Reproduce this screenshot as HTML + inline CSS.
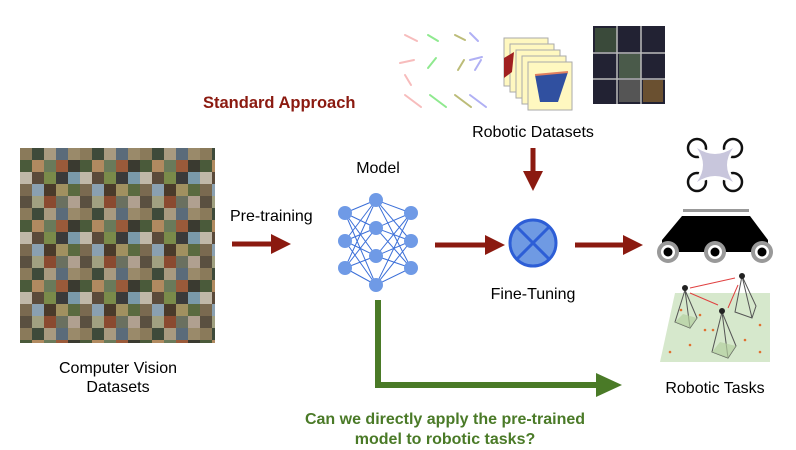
<!DOCTYPE html>
<html><head><meta charset="utf-8"><style>
body{margin:0;background:#fff;}
svg{display:block;font-family:"Liberation Sans",Arial,sans-serif;}
</style></head><body>
<svg width="796" height="450" viewBox="0 0 796 450" xmlns="http://www.w3.org/2000/svg">
<defs>
<pattern id="mos" x="20" y="148" width="60" height="60" patternUnits="userSpaceOnUse">
<rect width="60" height="60" fill="#6b5e4a"/>
<rect x="0" y="0" width="12" height="12" fill="#8a7a5a"/><rect x="12" y="0" width="12" height="12" fill="#3e4a3a"/><rect x="24" y="0" width="12" height="12" fill="#a89a80"/><rect x="36" y="0" width="12" height="12" fill="#5a6b7a"/><rect x="48" y="0" width="12" height="12" fill="#9a8a6a"/>
<rect x="0" y="12" width="12" height="12" fill="#4a5a3a"/><rect x="12" y="12" width="12" height="12" fill="#b08a60"/><rect x="24" y="12" width="12" height="12" fill="#6a7a5a"/><rect x="36" y="12" width="12" height="12" fill="#9a5a3a"/><rect x="48" y="12" width="12" height="12" fill="#3a3a30"/>
<rect x="0" y="24" width="12" height="12" fill="#c0b8a8"/><rect x="12" y="24" width="12" height="12" fill="#5a4a3a"/><rect x="24" y="24" width="12" height="12" fill="#7a8a4a"/><rect x="36" y="24" width="12" height="12" fill="#3a3a3a"/><rect x="48" y="24" width="12" height="12" fill="#7a9aaa"/>
<rect x="0" y="36" width="12" height="12" fill="#7a6a50"/><rect x="12" y="36" width="12" height="12" fill="#8aa0b0"/><rect x="24" y="36" width="12" height="12" fill="#4a3a2a"/><rect x="36" y="36" width="12" height="12" fill="#a09060"/><rect x="48" y="36" width="12" height="12" fill="#5a6a40"/>
<rect x="0" y="48" width="12" height="12" fill="#5a5040"/><rect x="12" y="48" width="12" height="12" fill="#a0a080"/><rect x="24" y="48" width="12" height="12" fill="#8a4a30"/><rect x="36" y="48" width="12" height="12" fill="#6a7060"/><rect x="48" y="48" width="12" height="12" fill="#b0a090"/>
</pattern>
<marker id="ar" markerWidth="4" markerHeight="4" refX="1" refY="2" orient="auto" markerUnits="strokeWidth"><path d="M0,0 L4,2 L0,4z" fill="#8b1a10"/></marker>
</defs>
<rect x="20" y="148" width="195" height="195" fill="url(#mos)"/>
<text x="118" y="373" font-size="16" text-anchor="middle">Computer Vision</text>
<text x="118" y="392" font-size="16" text-anchor="middle">Datasets</text>

<text x="203" y="108" font-size="16.5" font-weight="bold" fill="#8b1a10">Standard Approach</text>
<text x="533" y="137" font-size="16" text-anchor="middle">Robotic Datasets</text>

<g opacity="0.7">
<g stroke-width="2" stroke-linecap="round">
<path d="M405,35l12,6M400,63l14,-3M405,95l16,12M405,75l6,10" stroke="#f4a0a0"/>
<path d="M428,35l10,6M428,68l8,-10M430,95l16,12" stroke="#60e060"/>
<path d="M455,35l10,5M458,70l6,-10M455,95l16,12" stroke="#a0a040"/>
<path d="M470,33l8,8M470,60l12,-3M475,70l6,-10M470,95l16,12" stroke="#9090f0"/>
</g></g>
<g stroke="#aaa" stroke-width="1">
<rect x="504" y="38" width="44" height="48" fill="#fff8c0"/>
<rect x="510" y="44" width="44" height="48" fill="#fff8c0"/>
<rect x="516" y="50" width="44" height="48" fill="#fff8c0"/>
<rect x="522" y="56" width="44" height="48" fill="#fff8c0"/>
<rect x="528" y="62" width="44" height="48" fill="#fff8c0"/>
</g>
<path d="M504,58 l10,-6 l-2,20 l-8,6z" fill="#a02020"/>
<path d="M535,75 l33,-3 l-10,30 l-18,0z" fill="#3050a0"/>
<path d="M535,75 l33,-3" stroke="#e08060" stroke-width="2"/>
<rect x="593" y="26" width="72" height="78" fill="#223"/>
<g fill="#3a4a3a"><rect x="595" y="28" width="22" height="24"/><rect x="619" y="54" width="22" height="24" fill="#4a5a4a"/><rect x="643" y="80" width="20" height="22" fill="#6a5030"/><rect x="619" y="80" width="22" height="22" fill="#555"/></g>
<path d="M617,26v78M641,26v78M593,53h72M593,79h72" stroke="#bbb" stroke-width="1.5"/>

<text x="230" y="221" font-size="16">Pre-training</text>
<line x1="232" y1="244" x2="276" y2="244" stroke="#8b1a10" stroke-width="5" marker-end="url(#ar)"/>

<text x="378" y="173" font-size="16" text-anchor="middle">Model</text>
<g stroke="#3b6fd8" stroke-width="1">
<path d="M345,213L376,200M345,213L376,228M345,213L376,256M345,213L376,285M345,241L376,200M345,241L376,228M345,241L376,256M345,241L376,285M345,268L376,200M345,268L376,228M345,268L376,256M345,268L376,285M411,213L376,200M411,213L376,228M411,213L376,256M411,213L376,285M411,241L376,200M411,241L376,228M411,241L376,256M411,241L376,285M411,268L376,200M411,268L376,228M411,268L376,256M411,268L376,285"/>
</g>
<g fill="#6f9ae6">
<circle cx="345" cy="213" r="7"/><circle cx="345" cy="241" r="7"/><circle cx="345" cy="268" r="7"/>
<circle cx="376" cy="200" r="7"/><circle cx="376" cy="228" r="7"/><circle cx="376" cy="256" r="7"/><circle cx="376" cy="285" r="7"/>
<circle cx="411" cy="213" r="7"/><circle cx="411" cy="241" r="7"/><circle cx="411" cy="268" r="7"/>
</g>

<line x1="435" y1="245" x2="490" y2="245" stroke="#8b1a10" stroke-width="5" marker-end="url(#ar)"/>
<line x1="533" y1="148" x2="533" y2="176" stroke="#8b1a10" stroke-width="5" marker-end="url(#ar)"/>
<line x1="575" y1="245" x2="628" y2="245" stroke="#8b1a10" stroke-width="5" marker-end="url(#ar)"/>

<circle cx="533" cy="243" r="23" fill="#6f9ae3" stroke="#2d5ed6" stroke-width="3"/>
<path d="M517,227L549,259M549,227L517,259" stroke="#2d5ed6" stroke-width="3"/>
<text x="533" y="299" font-size="16" text-anchor="middle">Fine-Tuning</text>

<path d="M378,300V385H600" fill="none" stroke="#4a7a27" stroke-width="6"/>
<path d="M596,373L622,385L596,397z" fill="#4a7a27"/>
<text x="445" y="424" font-size="16" font-weight="bold" fill="#4a7a27" text-anchor="middle">Can we directly apply the pre-trained</text>
<text x="445" y="444" font-size="16" font-weight="bold" fill="#4a7a27" text-anchor="middle">model to robotic tasks?</text>

<!-- drone -->
<g fill="none" stroke="#111" stroke-width="2.5">
<circle cx="697" cy="148" r="9"/><circle cx="733" cy="148" r="9"/>
<circle cx="697" cy="182" r="9"/><circle cx="733" cy="182" r="9"/>
</g>
<path d="M697,148 Q715,160 733,148 Q721,165 733,182 Q715,170 697,182 Q709,165 697,148z" fill="#c8c6dc" stroke="#fff" stroke-width="5" stroke-linejoin="round"/>
<path d="M697,148 Q715,160 733,148 Q721,165 733,182 Q715,170 697,182 Q709,165 697,148z" fill="#c8c6dc"/>
<!-- robot -->
<rect x="683" y="209" width="66" height="3" fill="#999"/>
<path d="M682,216H750L768,240V252H662V240z" fill="#000"/>
<g><circle cx="668" cy="252" r="11" fill="#999"/><circle cx="668" cy="252" r="7" fill="#fff"/><circle cx="668" cy="252" r="4.5" fill="#000"/>
<circle cx="715" cy="252" r="11" fill="#999"/><circle cx="715" cy="252" r="7" fill="#fff"/><circle cx="715" cy="252" r="4.5" fill="#000"/>
<circle cx="762" cy="252" r="11" fill="#999"/><circle cx="762" cy="252" r="7" fill="#fff"/><circle cx="762" cy="252" r="4.5" fill="#000"/></g>
<!-- scene -->
<path d="M675,293H770V362H660z" fill="#d6e8cc"/>
<g stroke="#555" fill="none" stroke-width="1">
<path d="M685,290L675,322L690,328L697,318zM685,290L690,328"/>
<path d="M742,276L735,312L752,318L756,306zM742,276L752,318"/>
<path d="M722,312L712,352L728,358L736,346zM722,312L728,358"/>
</g>
<g fill="#b5d0a0" opacity=".7"><path d="M675,322L690,328L697,318L683,314z"/><path d="M712,352L728,358L736,346L720,342z"/></g>
<g stroke="#e04040" stroke-width="1"><path d="M690,288L735,278M690,293L718,305M728,308L738,285"/></g>
<g fill="#222"><circle cx="685" cy="288" r="3"/><circle cx="742" cy="276" r="3"/><circle cx="722" cy="311" r="3"/></g>
<g fill="#e07030"><circle cx="681" cy="310" r="1.3"/><circle cx="700" cy="315" r="1.3"/><circle cx="713" cy="330" r="1.3"/><circle cx="690" cy="345" r="1.3"/><circle cx="760" cy="325" r="1.3"/><circle cx="745" cy="340" r="1.3"/><circle cx="670" cy="352" r="1.3"/><circle cx="760" cy="352" r="1.3"/><circle cx="705" cy="330" r="1.3"/></g>
<text x="715" y="393" font-size="16" text-anchor="middle">Robotic Tasks</text>
</svg>
</body></html>
